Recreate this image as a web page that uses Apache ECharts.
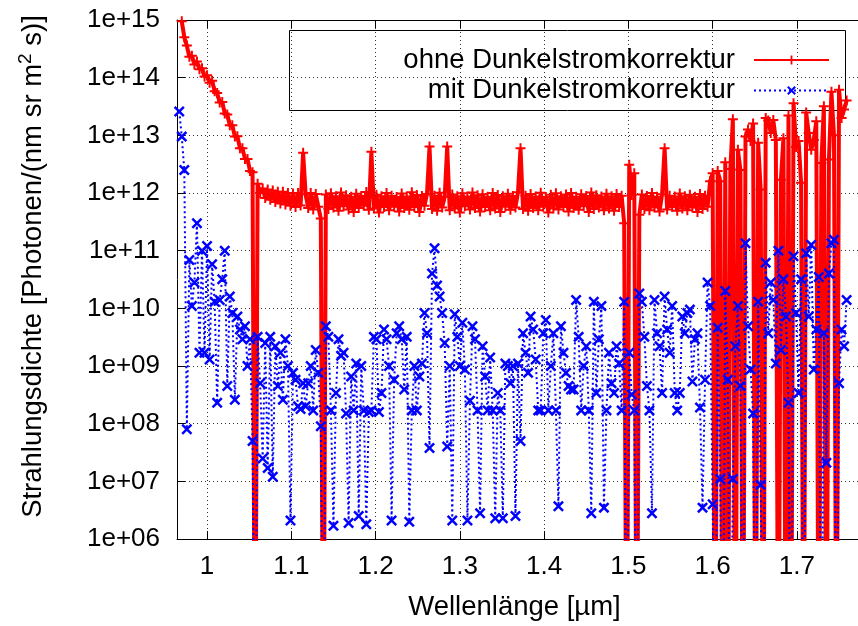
<!DOCTYPE html>
<html>
<head>
<meta charset="utf-8">
<script src="https://cdn.jsdelivr.net/npm/echarts@6/dist/echarts.min.js"></script>
<style>
html,body{margin:0;padding:0;background:#fff;}
#chart{width:858px;height:626px;}
</style>
</head>
<body>
<div id="chart"></div>
<script>
// Wavelength sampling grid (µm)
const LAMBDA_START = 0.967;
const LAMBDA_STEP = 0.003;

// 0 = value below the plotted range (line runs off the bottom of the plot)
const ohne = [
  null, 9.5e14, 5e14, 3.6e14, 2.3e14, 2.4e14, 1.7e14, 1.9e14, 1.4e14, 1.45e14,
  1.05e14, 1.1e14, 8.2e13, 8.8e13, 5.8e13, 5.4e13, 3.7e13, 3.8e13, 2.4e13, 2.3e13,
  1.5e13, 1.5e13, 9.5e12, 9.6e12, 6.0e12, 6.0e12, 3.9e12, 3.9e12, 2.4e12, 2.3e12,
  0, 1.45e12, 1.0e12, 1.2e12, 8.2e11, 1.15e12, 7.6e11, 1.1e12, 7.0e11, 1.05e12,
  6.6e11, 1.05e12, 6.3e11, 1.0e12, 6.0e11, 9.8e11, 5.7e11, 1.0e12, 6.1e11, 5e12,
  9.5e11, 5.5e11, 1.0e12, 5.2e11, 9.6e11, 5.8e11, 3.6e11, 0, 9.4e11, 5.3e11,
  9.9e11, 5.6e11, 8.8e11, 4.9e11, 1.02e12, 5.9e11, 9.1e11, 5.2e11, 8.6e11, 4.7e11,
  9.7e11, 5.5e11, 8.9e11, 6.0e11, 1.04e12, 5.1e11, 5.2e12, 5.4e11, 9.3e11, 4.6e11,
  8.8e11, 5.7e11, 1.0e12, 5.0e11, 9.0e11, 5.8e11, 8.5e11, 4.8e11, 9.8e11, 5.5e11,
  8.7e11, 5.1e11, 1.03e12, 5.7e11, 9.2e11, 4.7e11, 8.9e11, 6.0e11, 9.6e11, 6.4e12,
  5.3e11, 9.0e11, 4.9e11, 1.01e12, 5.6e11, 8.6e11, 6.4e12, 5.0e11, 9.4e11, 5.4e11,
  8.8e11, 4.6e11, 9.9e11, 5.9e11, 8.7e11, 5.2e11, 1.02e12, 5.5e11, 9.1e11, 4.8e11,
  9.5e11, 5.7e11, 8.6e11, 5.0e11, 1.0e12, 5.4e11, 9.2e11, 4.7e11, 8.8e11, 5.8e11,
  9.7e11, 5.1e11, 8.9e11, 5.6e11, 1.03e12, 6e12, 5.3e11, 9.0e11, 4.9e11, 9.6e11,
  5.5e11, 8.7e11, 5.0e11, 1.01e12, 5.8e11, 8.5e11, 4.6e11, 9.3e11, 5.4e11, 9.9e11,
  5.2e11, 8.8e11, 5.7e11, 9.4e11, 4.8e11, 1.0e12, 5.5e11, 8.6e11, 5.1e11, 9.5e11,
  5.9e11, 8.9e11, 4.7e11, 1.02e12, 5.3e11, 9.1e11, 5.6e11, 8.7e11, 5.0e11, 9.7e11,
  5.4e11, 8.8e11, 4.9e11, 9.6e11, 5.7e11, 9.0e11, 3.0e11, 0, 3.1e12, 9.2e11,
  2.2e12, 0, 4.2e11, 9.4e11, 5.3e11, 8.9e11, 5.0e11, 1.0e12, 5.6e11, 8.6e11,
  4.8e11, 9.5e11, 6e12, 5.2e11, 9.0e11, 5.7e11, 8.7e11, 4.9e11, 9.8e11, 5.4e11,
  8.8e11, 5.0e11, 9.3e11, 5.6e11, 8.6e11, 4.7e11, 9.6e11, 5.3e11, 9.0e11, 5.8e11,
  1.6e12, 2.2e12, 0, 2.4e12, 1.6e12, 0, 3.4e12, 0, 2.6e12, 1.9e13,
  0, 5.6e12, 2.5e12, 0, 9.5e12, 1.26e13, 8e12, 1.6e13, 0, 7.4e12,
  1.15e12, 0, 2e13, 1.8e13, 1.1e13, 1.85e13, 8.3e12, 0, 1.7e12, 8.9e12,
  0, 2.2e13, 0, 3.6e13, 6.3e12, 8e12, 1.5e12, 0, 2.5e13, 1.1e13,
  5.6e12, 8.3e12, 1.75e13, 0, 3.3e12, 3.2e13, 0, 3.8e12, 5.7e13, 1e13,
  0, 6.2e13, 2e13, 2.8e13, 4e13
];

const mit = [
  2.6e13, 9.5e12, 2.5e12, 8e7, 6.9e10, 1.1e10, 2.8e10, 3e11, 1.7e9, 1e11,
  1.7e9, 1.2e11, 1.3e9, 5.8e10, 1.3e10, 2.3e8, 1.4e10, 3.2e10, 1e11, 4.5e8,
  1.6e10, 8.3e9, 2.6e8, 7.2e9, 4.3e9, 2.9e9, 4.9e9, 1e9, 2.9e9, 5e7,
  0, 3.2e9, 5e8, 2.5e7, 2.5e9, 1.7e7, 3.2e9, 1.2e7, 2.2e9, 4.5e8,
  1.7e9, 2.6e8, 2.9e9, 1e9, 2.1e6, 7.6e8, 5.8e8, 2e8, 1.8e8, 5e8,
  2e8, 5e8, 1e9, 1.7e8, 1.9e9, 7.6e8, 9e7, 0, 4.9e9, 3.2e9,
  1.7e8, 1.7e6, 3.4e8, 2.9e9, 1.5e9, 1.7e9, 1.5e8, 1.9e6, 6.6e8, 1.7e8,
  1.1e9, 2.5e6, 1e9, 1.7e8, 1.8e6, 1.6e8, 1.7e8, 3.2e9, 2.9e9, 1.6e8,
  3.4e8, 4.3e9, 2.9e9, 1e9, 2.1e6, 5.8e8, 3.7e9, 4.9e9, 2.9e9, 3.9e8,
  3.2e9, 2e6, 1.7e8, 1e9, 1.7e8, 6.6e8, 1.1e9, 8.3e9, 3.7e9, 3.8e7,
  4e10, 1.1e11, 2.5e10, 1.6e10, 8.3e9, 2.5e9, 4e7, 1e9, 2.1e6, 7.9e9,
  3.2e9, 1e9, 5.6e9, 8.7e8, 2.1e6, 2.5e8, 4.9e9, 2.9e9, 1.7e8, 2.8e6,
  2.2e9, 6.6e8, 1.7e8, 1.4e9, 1.7e8, 2.3e6, 3.4e8, 1.7e8, 2.3e6, 1.1e9,
  1e9, 5e8, 1e9, 2.5e6, 1.1e9, 5e7, 3.7e9, 1.7e9, 7.6e8, 7.2e9,
  4.3e9, 1.3e9, 1.7e8, 1.7e8, 3.7e9, 6.3e9, 1.7e8, 1e9, 3.7e9, 1.7e8,
  3.7e6, 4.9e9, 1.7e9, 7.6e8, 4.5e8, 3.9e8, 3.9e8, 1.4e10, 3.2e9, 1.7e8,
  1e9, 2.2e9, 1.7e8, 2.8e6, 1.3e10, 3.4e8, 2.9e9, 1.1e10, 3.5e6, 1.7e8,
  1.7e9, 5e8, 3.4e8, 2.2e9, 1.1e9, 1.7e8, 1.3e10, 0, 1.7e9, 3.2e8,
  1.7e8, 0, 1.8e10, 1.3e10, 3.2e9, 4.5e8, 1.7e8, 2.8e6, 1.4e10, 3.7e9,
  2.2e9, 3.4e8, 1.6e10, 4.3e9, 1.7e9, 1.1e10, 3.4e8, 1.7e8, 3.4e8, 7.2e9,
  3.7e9, 8.3e9, 9.5e9, 5.4e8, 2.9e9, 3.7e9, 1.9e8, 3.5e6, 5.8e8, 2.8e10,
  1.1e10, 4e6, 0, 4.6e9, 1.1e7, 0, 2e10, 5.8e8, 0, 1.1e7,
  2.2e9, 1.1e10, 4.5e8, 0, 1.35e11, 4.9e9, 8.7e8, 1.5e8, 0, 1.3e10,
  8.7e6, 0, 6.2e10, 3.7e9, 2.8e10, 1.4e10, 1.1e9, 1e11, 1.9e9, 3.2e10,
  7.2e9, 2.3e8, 0, 8e10, 8.3e9, 3.4e8, 3.2e10, 0, 9e10, 7.2e9,
  1.26e11, 8.7e8, 4.3e9, 3.5e10, 0, 3.7e9, 2.1e7, 4e10, 1.35e11, 1.55e11,
  0, 5e8, 4.3e9, 2.2e9, 1.4e10
];

const seriesNames = ['ohne Dunkelstromkorrektur', 'mit Dunkelstromkorrektur'];
const xTickValues = [1.0, 1.1, 1.2, 1.3, 1.4, 1.5, 1.6, 1.7];
const yTickValues = [1e6, 1e7, 1e8, 1e9, 1e10, 1e11, 1e12, 1e13, 1e14, 1e15];
const xTitle = 'Wellenlänge [µm]';
const yTitle = 'Strahlungsdichte [Photonen/(nm sr m{sup|2} s)]';

const X_MIN = 0.96433, X_MAX = 1.77251;
const Y_MIN = 1e6, Y_MAX = 1e15;
const BELOW = 1e2; // plotted position for values below the axis range

const lambda = ohne.map((_, i) => +(LAMBDA_START + i * LAMBDA_STEP).toFixed(3));
const toPairs = arr => arr.map((v, i) => [lambda[i], v === null ? null : (v === 0 ? BELOW : v)]);

const FONT = "'Liberation Sans', Arial, sans-serif";
const plusPath = 'path://M4,0H6V4H10V6H6V10H4V6H0V4H4Z';
const crossPath = 'path://M0,1.6L1.6,0L5,3.4L8.4,0L10,1.6L6.6,5L10,8.4L8.4,10L5,6.6L1.6,10L0,8.4L3.4,5Z';

const chart = echarts.init(document.getElementById('chart'), null, {renderer: 'canvas'});
const gridLine = {show: true, lineStyle: {color: '#333', width: 1, type: [1, 3]}};

chart.setOption({
  animation: false,
  backgroundColor: '#fff',
  textStyle: {fontFamily: FONT},
  grid: {left: 177, top: 20, bottom: 87, right: -10, containLabel: false},
  graphic: [{
    type: 'rect', z: 1, silent: true,
    shape: {x: 289.5, y: 30.5, width: 556, height: 80},
    style: {fill: 'none', stroke: '#000', lineWidth: 1}
  }],
  legend: {
    orient: 'vertical', align: 'right', right: 28, top: 46, itemGap: 2.5,
    itemWidth: 75, itemHeight: 11, padding: 0, selectedMode: false,
    data: seriesNames,
    lineStyle: {width: 2},
    textStyle: {fontSize: 27.5, color: '#000', fontFamily: FONT, padding: [0, 14, 0, 0]}
  },
  xAxis: [{
    type: 'value', min: X_MIN, max: X_MAX, position: 'bottom',
    name: xTitle, nameLocation: 'middle', nameGap: 54,
    nameTextStyle: {fontSize: 27.5, color: '#000', fontFamily: FONT, padding: [0, 6, 0, 0]},
    axisLine: {show: true, onZero: false, lineStyle: {color: '#000', width: 1}},
    axisTick: {show: true, inside: true, length: 8, customValues: xTickValues, lineStyle: {color: '#000'}},
    axisLabel: {show: true, customValues: xTickValues, margin: 15, fontSize: 26, color: '#000', fontFamily: FONT,
      formatter: v => String(+v.toFixed(1))},
    splitLine: gridLine
  }, {
    type: 'value', min: X_MIN, max: X_MAX, position: 'top',
    axisLine: {show: true, onZero: false, lineStyle: {color: '#000', width: 1}},
    axisTick: {show: true, inside: true, length: 8, customValues: xTickValues, lineStyle: {color: '#000'}},
    axisLabel: {show: false}, splitLine: {show: false}
  }],
  yAxis: {
    type: 'log', logBase: 10, min: Y_MIN, max: Y_MAX, splitNumber: 9,
    name: yTitle, nameLocation: 'middle', nameGap: 126,
    nameTextStyle: {fontSize: 27.5, color: '#000', fontFamily: FONT, padding: [0, 0, 0, 26],
      rich: {sup: {fontSize: 19, color: '#000', fontFamily: FONT, verticalAlign: 'top', padding: [0, 0, 16, 0]}}},
    axisLine: {show: true, onZero: false, lineStyle: {color: '#000', width: 1}},
    axisTick: {show: true, inside: true, length: 8, lineStyle: {color: '#000'}},
    axisLabel: {margin: 17, fontSize: 26, color: '#000', fontFamily: FONT,
      formatter: v => '1e+' + String(Math.round(Math.log10(v))).padStart(2, '0')},
    splitLine: gridLine
  },
  series: [{
    name: seriesNames[0], type: 'line', data: toPairs(ohne), xAxisIndex: 0,
    color: '#ff0000', symbol: plusPath, symbolSize: 10, showAllSymbol: true,
    lineStyle: {color: '#ff0000', width: 4},
    itemStyle: {color: '#ff0000'},
    silent: true, clip: true, z: 3, emphasis: {disabled: true}
  }, {
    name: seriesNames[1], type: 'line', data: toPairs(mit), xAxisIndex: 0,
    color: '#0000ff', symbol: crossPath, symbolSize: 11, showAllSymbol: true,
    lineStyle: {color: '#0000ff', width: 2, type: [2, 3]},
    itemStyle: {color: '#0000ff'},
    silent: true, clip: true, z: 4, emphasis: {disabled: true}
  }]
});
</script>
</body>
</html>
